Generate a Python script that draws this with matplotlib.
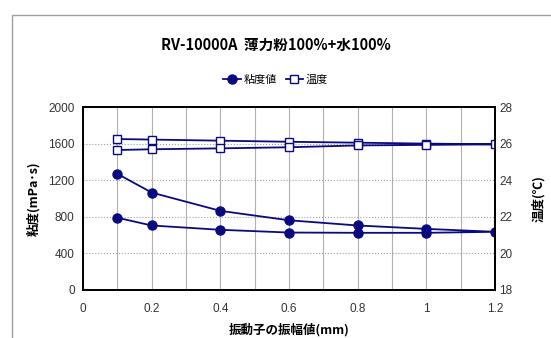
import matplotlib
matplotlib.use("Agg")
import matplotlib.pyplot as plt
from matplotlib.patches import Rectangle

plt.rcParams['font.family'] = ['Noto Sans CJK JP', 'DejaVu Sans']

amplitude = [0.1, 0.2, 0.4, 0.6, 0.8, 1.0, 1.2, 1.0, 0.8, 0.6, 0.4, 0.2, 0.1]
viscosity = [1270, 1065, 865, 762, 705, 668, 636, 625, 625, 628, 658, 705, 790]
temperature = [26.25, 26.22, 26.16, 26.1, 26.05, 26.0, 25.96, 25.93, 25.9, 25.8, 25.74, 25.69, 25.65]

title = "RV-10000A  薄力粉100%+水100%"
xlabel = "振動子の振幅値(mm)"
ylabel_left = "粘度(mPa･s)"
ylabel_right = "温度(℃)"
xticks = [0, 0.2, 0.4, 0.6, 0.8, 1.0, 1.2]
xticklabels = ["0", "0.2", "0.4", "0.6", "0.8", "1", "1.2"]
yticks_left = [0, 400, 800, 1200, 1600, 2000]
yticks_right = [18, 20, 22, 24, 26, 28]

W, H = 551, 338
fig = plt.figure(figsize=(W / 100, H / 100), dpi=100)
fig.patches.append(Rectangle((12 / W, -0.1), 1.2, (H - 15) / H + 0.1,
                             transform=fig.transFigure, fill=False,
                             edgecolor='#a0a0a0', linewidth=1.0))

ax = fig.add_axes([83 / W, 1 - 290 / H, (495 - 83) / W, (290 - 107) / H])
ax2 = ax.twinx()

col = '#0a0a80'
l1, = ax.plot(amplitude, viscosity, color=col, marker='o', markersize=6.5,
              linewidth=1.3, label='粘度値')
l2, = ax2.plot(amplitude, temperature, color=col, marker='s', markersize=5.2,
               markerfacecolor='white', markeredgewidth=1.0, linewidth=1.3,
               label='温度')

ax.set_xlim(0, 1.2)
ax.set_ylim(0, 2000)
ax2.set_ylim(18, 28)
ax.set_xticks(xticks)
ax.set_xticklabels(xticklabels)
ax.set_xticks([i / 10 for i in range(13)], minor=True)
ax.set_yticks(yticks_left)
ax2.set_yticks(yticks_right)

ax.grid(True, which='both', axis='x', color='#b0b0b0', linestyle='-', linewidth=0.8)
ax.grid(True, axis='y', color='#a0a0a0', linestyle=':', linewidth=0.8)
ax.set_axisbelow(True)

for a in (ax, ax2):
    for s in a.spines.values():
        s.set_linewidth(1.3)
        s.set_color('black')
    a.tick_params(which='both', length=0, labelsize=8.5, colors='#333333')
    for lab in a.get_xticklabels() + a.get_yticklabels():
        lab.set_family(['Liberation Sans', 'DejaVu Sans'])
ax.tick_params(axis='x', pad=9)
ax.tick_params(axis='y', pad=6)
ax2.tick_params(axis='y', pad=3)

ax.set_xlabel(xlabel, fontsize=9, fontweight='bold', labelpad=6)
ax.set_ylabel(ylabel_left, fontsize=9, fontweight='bold', labelpad=6)
ax2.set_ylabel(ylabel_right, fontsize=9, fontweight='bold', rotation=90, labelpad=14)

fig.text(0.5, 1 - 45 / H, title, ha='center', va='center', fontsize=10.5, fontweight='bold')
fig.legend(handles=[l1, l2], loc='center', bbox_to_anchor=(0.5, 1 - 80 / H),
           ncol=2, frameon=False, fontsize=8, handlelength=1.6, handletextpad=0.2,
           columnspacing=0.8)

fig.savefig("out.png", dpi=100)
